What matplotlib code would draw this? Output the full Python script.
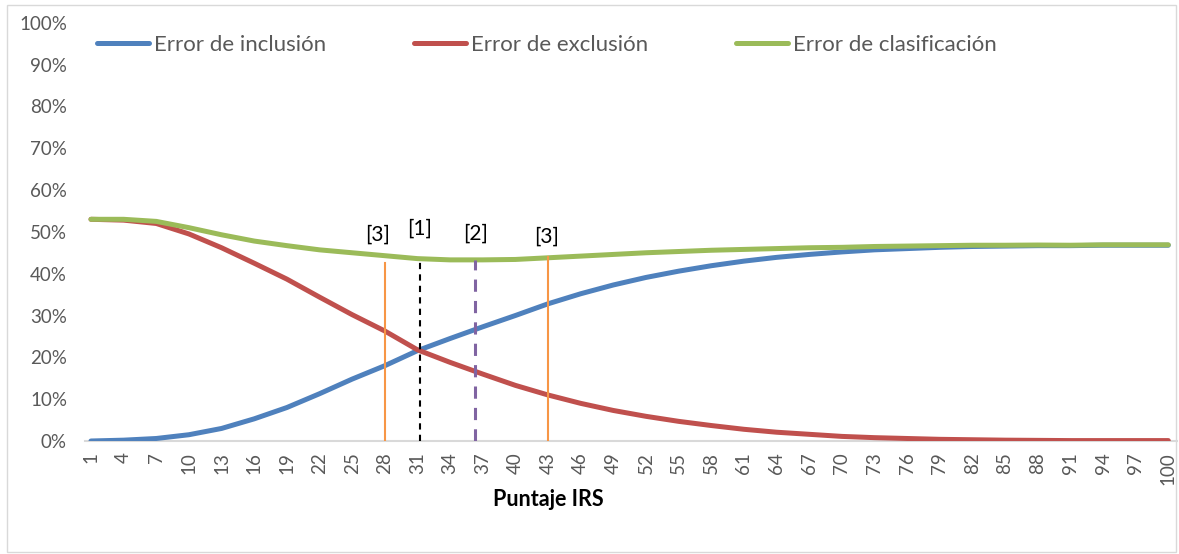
import matplotlib
matplotlib.use("Agg")
from matplotlib import pyplot as plt
from matplotlib.patches import Rectangle

# puntaje IRS (cada 3 categorias: 1, 4, ..., 100)
puntaje = list(range(1, 101, 3))

# errores en %
err_inclusion = [0.0, 0.2, 0.6, 1.5, 3.0, 5.3, 8.0, 11.3, 14.8, 18.0,
                 21.6, 24.5, 27.3, 30.0, 32.8, 35.2, 37.3, 39.1, 40.6, 41.9,
                 43.0, 43.9, 44.6, 45.2, 45.7, 46.0, 46.3, 46.5, 46.6, 46.7,
                 46.7, 46.8, 46.8, 46.8]
err_exclusion = [53.0, 52.8, 52.0, 49.5, 46.2, 42.5, 38.7, 34.4, 30.2, 26.3,
                 21.8, 18.8, 16.0, 13.3, 11.0, 9.0, 7.3, 5.9, 4.7, 3.7,
                 2.8, 2.1, 1.6, 1.1, 0.8, 0.6, 0.4, 0.3, 0.2, 0.15,
                 0.1, 0.1, 0.1, 0.1]
err_clasif = [53.0, 53.0, 52.5, 51.0, 49.3, 47.8, 46.7, 45.7, 45.0, 44.3,
              43.6, 43.3, 43.3, 43.4, 43.8, 44.2, 44.6, 45.0, 45.3, 45.6,
              45.8, 46.0, 46.2, 46.3, 46.5, 46.6, 46.7, 46.8, 46.8, 46.85,
              46.8, 46.9, 46.9, 46.9]

# puntos de corte marcados
corte_x = [28, 31.2, 36.3, 43]
corte_top = [42.5, 43.5, 43.2, 44.0]
corte_lab = ["[3]", "[1]", "[2]", "[3]"]
lab_y = [49.3, 50.7, 49.5, 48.8]
lab_x = [27.3, 31.2, 36.3, 42.9]

col_inc = "#4F81BD"
col_exc = "#C0504D"
col_cla = "#9BBB59"
gris = "#595959"

plt.rcParams['font.family'] = ['Lato', 'DejaVu Sans']

fig = plt.figure(figsize=(11.79, 5.54), dpi=100)
W, H = 1179, 554
ax = fig.add_axes([85 / W, 1 - 441 / H, (1177 - 85) / W, (441 - 22.7) / H])

ax.plot(puntaje, err_inclusion, color=col_inc, lw=3.6, solid_capstyle='round', label="Error de inclusión", zorder=3)
ax.plot(puntaje, err_exclusion, color=col_exc, lw=3.6, solid_capstyle='round', label="Error de exclusión", zorder=3)
ax.plot(puntaje, err_clasif, color=col_cla, lw=3.6, solid_capstyle='round', label="Error de clasificación", zorder=3)

# lineas verticales
ax.plot([corte_x[0]] * 2, [0, corte_top[0]], color="#F79646", lw=1.5, zorder=4)
ax.plot([corte_x[3]] * 2, [0, corte_top[3]], color="#F79646", lw=1.5, zorder=4)
ax.plot([corte_x[1]] * 2, [0, corte_top[1]], color="black", lw=1.5, ls=(0, (3, 2.5)), zorder=4)
ax.plot([corte_x[2]] * 2, [0, corte_top[2]], color="#8064A2", lw=2.2, ls=(0, (4, 3)), zorder=4)

for x, y, t in zip(lab_x, lab_y, corte_lab):
    ax.text(x, y, t, ha='center', va='center', fontsize=15, color='black')

ax.set_xlim(0.45, 100.8)
ax.set_ylim(0, 100)
ax.set_yticks(range(0, 101, 10))
ax.set_yticklabels(["{}%".format(v) for v in range(0, 101, 10)])
ax.set_xticks(puntaje)
ax.set_xticklabels([str(p) for p in puntaje], rotation=90)
ax.tick_params(axis='both', length=0, labelsize=13.5, labelcolor=gris)
ax.tick_params(axis='y', pad=13)
ax.tick_params(axis='x', pad=8)

for s in ['top', 'right', 'left']:
    ax.spines[s].set_visible(False)
ax.spines['bottom'].set_color("#D9D9D9")
ax.spines['bottom'].set_linewidth(1.5)

fig.text(548 / W, 1 - 500 / H, "Puntaje IRS", ha='center', va='center',
         fontsize=15.5, fontweight='bold', color='black')

leg = ax.legend(loc='center left', bbox_to_anchor=(12 / 1092, 1 - (45 - 22.7) / (441 - 22.7)),
                ncol=3, frameon=False, fontsize=16, handlelength=2.35,
                handletextpad=0.22, columnspacing=3.95, borderaxespad=0,
                borderpad=0)
for t in leg.get_texts():
    t.set_color(gris)

fig.patches.append(Rectangle((7 / W, 1 - 552 / H), (1176 - 7) / W, (552 - 5) / H,
                             transform=fig.transFigure, fill=False,
                             edgecolor="#D9D9D9", lw=1.0))

plt.savefig('out.png', dpi=100)
